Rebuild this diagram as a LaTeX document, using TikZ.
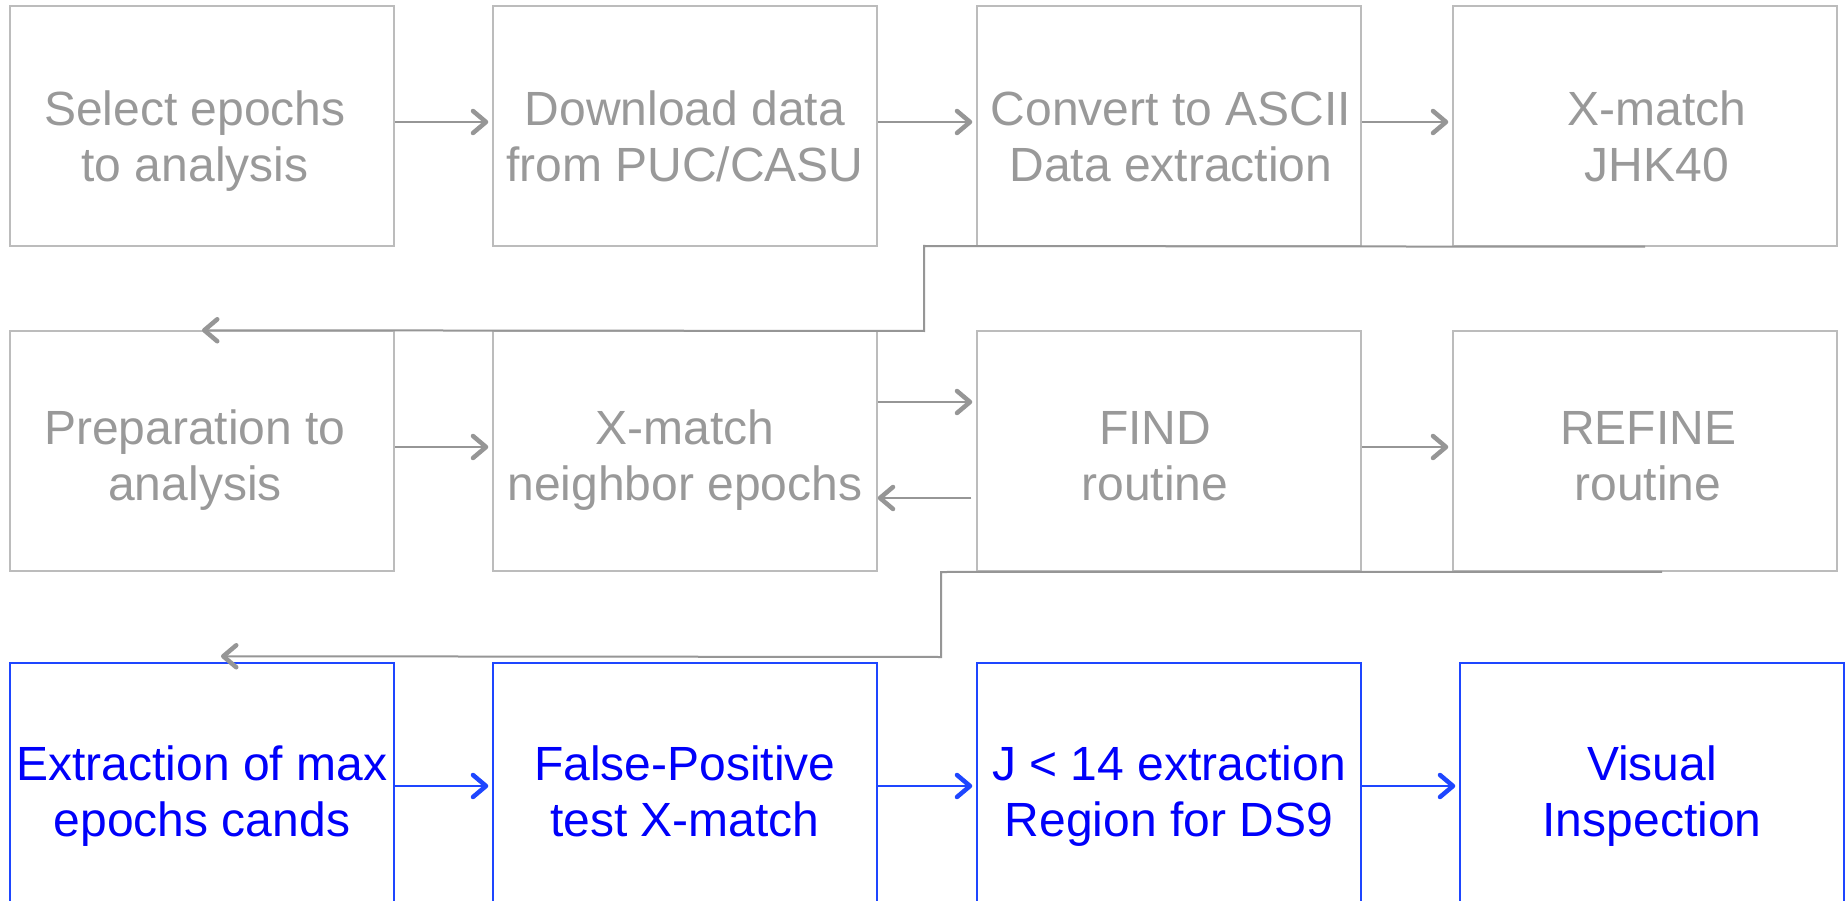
\documentclass[tikz,border=0pt]{standalone}
\usepackage{fontspec}
\setmainfont{Liberation Sans}
\usetikzlibrary{arrows.meta}
\definecolor{txtgray}{RGB}{153,153,153}
\definecolor{boxgray}{RGB}{188,188,188}
\definecolor{linegray}{RGB}{150,150,150}
\definecolor{txtblue}{RGB}{0,0,250}
\definecolor{boxblue}{RGB}{30,70,255}
\begin{document}
\begin{tikzpicture}[x=1pt,y=-1pt,
  stepbox/.style={draw=boxgray, line width=1.5pt, minimum width=384pt, minimum height=240pt, inner sep=0pt},
  bluebox/.style={stepbox, draw=boxblue},
  lbl/.style={font=\fontsize{48}{56}\selectfont, text=txtgray, align=center, inner sep=0pt},
  bluelbl/.style={lbl, text=txtblue},
  tip/.style={-{Straight Barb[length=13pt,width=22pt,line width=4.5pt,round]}},
  flow/.style={draw=linegray, line width=2pt, tip},
  blueflow/.style={draw=boxblue, line width=2pt, tip},
]
\fill[white] (0,0) rectangle (1848,901);
\useasboundingbox (0,0) rectangle (1848,901);

% row 1
\node[stepbox] (a1) at (202,126) {};
\node[stepbox] (a2) at (685,126) {};
\node[stepbox] (a3) at (1169,126) {};
\node[stepbox] (a4) at (1645,126) {};
\node[lbl] (a1t) at ([xshift=-7pt,yshift=-16pt]a1.center) {\strut Select epochs\\\strut to analysis};
\node[lbl] (a2t) at ([yshift=-16pt]a2.center) {\strut Download data\\\strut from PUC/CASU};
\node[lbl] (a3t) at ([xshift=2pt,yshift=-16pt]a3.center) {\strut Convert to ASCII\\\strut Data extraction};
\node[lbl] (a4t) at ([xshift=12pt,yshift=-16pt]a4.center) {\strut X-match\\\strut JHK40};

% row 2
\node[stepbox] (b1) at (202,451) {};
\node[stepbox] (b2) at (685,451) {};
\node[stepbox] (b3) at (1169,451) {};
\node[stepbox] (b4) at (1645,451) {};
\node[lbl] (b1t) at ([xshift=-7pt,yshift=-10pt]b1.center) {\strut Preparation to\\\strut analysis};
\node[lbl] (b2t) at ([yshift=-10pt]b2.center) {\strut X-match\\\strut neighbor epochs};
\node[lbl] (b3t) at ([xshift=-14pt,yshift=-10pt]b3.center) {\strut FIND\\\strut routine};
\node[lbl] (b4t) at ([xshift=3pt,yshift=-10pt]b4.center) {\strut REFINE\\\strut routine};

% row 3
\node[bluebox] (c1) at (202,783) {};
\node[bluebox] (c2) at (685,783) {};
\node[bluebox] (c3) at (1169,783) {};
\node[bluebox] (c4) at (1652,783) {};
\node[bluelbl] (c1t) at ([yshift=-14pt]c1.center) {\strut Extraction of max\\\strut epochs cands};
\node[bluelbl] (c2t) at ([yshift=-14pt]c2.center) {\strut False-Positive\\\strut test X-match};
\node[bluelbl] (c3t) at ([yshift=-14pt]c3.center) {\strut J < 14 extraction\\\strut Region for DS9};
\node[bluelbl] (c4t) at ([yshift=-14pt]c4.center) {\strut Visual\\\strut Inspection};

% arrows along row 1
\draw[flow, shorten >=4pt] ([yshift=4pt]a1.east) -- ([yshift=4pt]a2.west);
\draw[flow, shorten >=4pt] ([yshift=4pt]a2.east) -- ([yshift=4pt]a3.west);
\draw[flow, shorten >=4pt] ([yshift=4pt]a3.east) -- ([yshift=4pt]a4.west);

% wrap from row 1 to row 2
\coordinate (k1) at (924,246);
\coordinate (k2) at (924,331);
\draw[flow] (a4.south) -- (k1) -- (k2) -- (b1.north);

% arrows along row 2
\draw[flow, shorten >=4pt] ([yshift=4pt]b1.east) -- ([yshift=4pt]b2.west);
\draw[flow, shorten >=4pt] ([yshift=49pt]b2.east) -- ([yshift=49pt]b3.west);
\draw[flow, shorten <=5pt] ([yshift=-47pt]b3.west) -- ([yshift=-47pt]b2.east);
\draw[flow, shorten >=4pt] ([yshift=4pt]b3.east) -- ([yshift=4pt]b4.west);

% wrap from row 2 to row 3
\coordinate (k3) at ([xshift=17pt]b4.south);
\coordinate (k4) at (941,572);
\coordinate (k5) at (941,657);
\coordinate (k6) at ([xshift=19pt,yshift=6pt]c1.north);
\draw[flow] (k3) -- (k4) -- (k5) -- (k6);

% arrows along row 3
\draw[blueflow, shorten >=4pt] ([yshift=-3pt]c1.east) -- ([yshift=-3pt]c2.west);
\draw[blueflow, shorten >=4pt] ([yshift=-3pt]c2.east) -- ([yshift=-3pt]c3.west);
\draw[blueflow, shorten >=4pt] ([yshift=-3pt]c3.east) -- ([yshift=-3pt]c4.west);
\end{tikzpicture}
\end{document}
